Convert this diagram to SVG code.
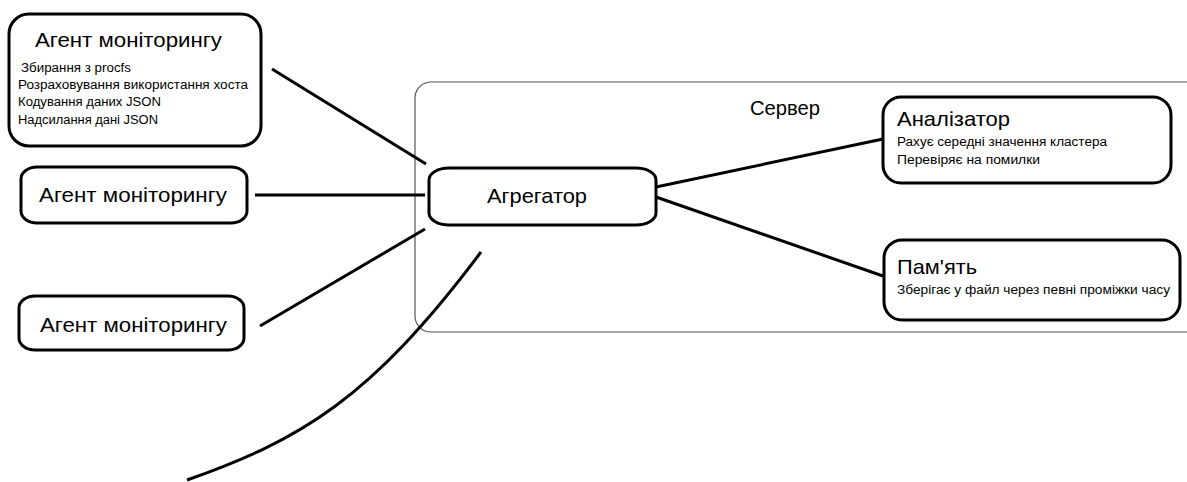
<svg xmlns="http://www.w3.org/2000/svg" width="1187" height="482" viewBox="0 0 1187 482">
<style>
.box{fill:#fff;stroke:#000;stroke-width:3}
.t{font-family:"Liberation Sans",Arial,sans-serif;fill:#000}
.ti{font-size:21px}
.sm{font-size:12px}
.c{fill:none;stroke:#000;stroke-width:3;stroke-linecap:butt}
</style>
<rect width="1187" height="482" fill="#fff"/>
<g id="server">
<rect x="415" y="82" width="790" height="250" rx="16" ry="16" fill="none" stroke="#555" stroke-width="1.2"/>
<text class="t ti" x="750" y="115" textLength="70" lengthAdjust="spacingAndGlyphs">Сервер</text>
</g>
<g id="connectors">
<line class="c" x1="272" y1="69" x2="426" y2="164"/>
<line class="c" x1="255" y1="195" x2="425" y2="195"/>
<line class="c" x1="260" y1="326" x2="425" y2="229"/>
<path class="c" d="M187,480 C300,440 370,400 481,252"/>
<line class="c" x1="656" y1="187" x2="883" y2="139"/>
<line class="c" x1="656" y1="197" x2="883" y2="276"/>
</g>
<g id="agent1">
<rect class="box" x="9" y="14" width="252" height="132" rx="20" ry="20"/>
<text class="t ti" x="35" y="47" textLength="187" lengthAdjust="spacingAndGlyphs">Агент моніторингу</text>
<text class="t sm" x="21" y="72" textLength="110" lengthAdjust="spacingAndGlyphs">Збирання з procfs</text>
<text class="t sm" x="18" y="89" textLength="230" lengthAdjust="spacingAndGlyphs">Розраховування використання хоста</text>
<text class="t sm" x="18" y="106" textLength="143" lengthAdjust="spacingAndGlyphs">Кодування даних JSON</text>
<text class="t sm" x="18" y="124" textLength="140" lengthAdjust="spacingAndGlyphs">Надсилання дані JSON</text>
</g>
<g id="agent2">
<rect class="box" x="21" y="167" width="226" height="56" rx="16" ry="12"/>
<text class="t ti" x="39" y="202" textLength="188" lengthAdjust="spacingAndGlyphs">Агент моніторингу</text>
</g>
<g id="agent3">
<rect class="box" x="19" y="296" width="225" height="54" rx="16" ry="12"/>
<text class="t ti" x="40" y="332" textLength="187" lengthAdjust="spacingAndGlyphs">Агент моніторингу</text>
</g>
<g id="aggregator">
<rect class="box" x="429" y="168" width="227" height="57" rx="20" ry="12"/>
<text class="t ti" x="487" y="203" textLength="100" lengthAdjust="spacingAndGlyphs">Агрегатор</text>
</g>
<g id="analyzer">
<rect class="box" x="883" y="97" width="288" height="86" rx="18" ry="18"/>
<text class="t ti" x="897" y="126" textLength="113" lengthAdjust="spacingAndGlyphs">Аналізатор</text>
<text class="t sm" x="897" y="146" textLength="210" lengthAdjust="spacingAndGlyphs">Рахує середні значення кластера</text>
<text class="t sm" x="897" y="164" textLength="143" lengthAdjust="spacingAndGlyphs">Перевіряє на помилки</text>
</g>
<g id="memory">
<rect class="box" x="884" y="240" width="296" height="80" rx="18" ry="18"/>
<text class="t ti" x="897" y="274" textLength="80" lengthAdjust="spacingAndGlyphs">Пам'ять</text>
<text class="t sm" x="897" y="294" textLength="273" lengthAdjust="spacingAndGlyphs">Зберігає у файл через певні проміжки часу</text>
</g>
</svg>
